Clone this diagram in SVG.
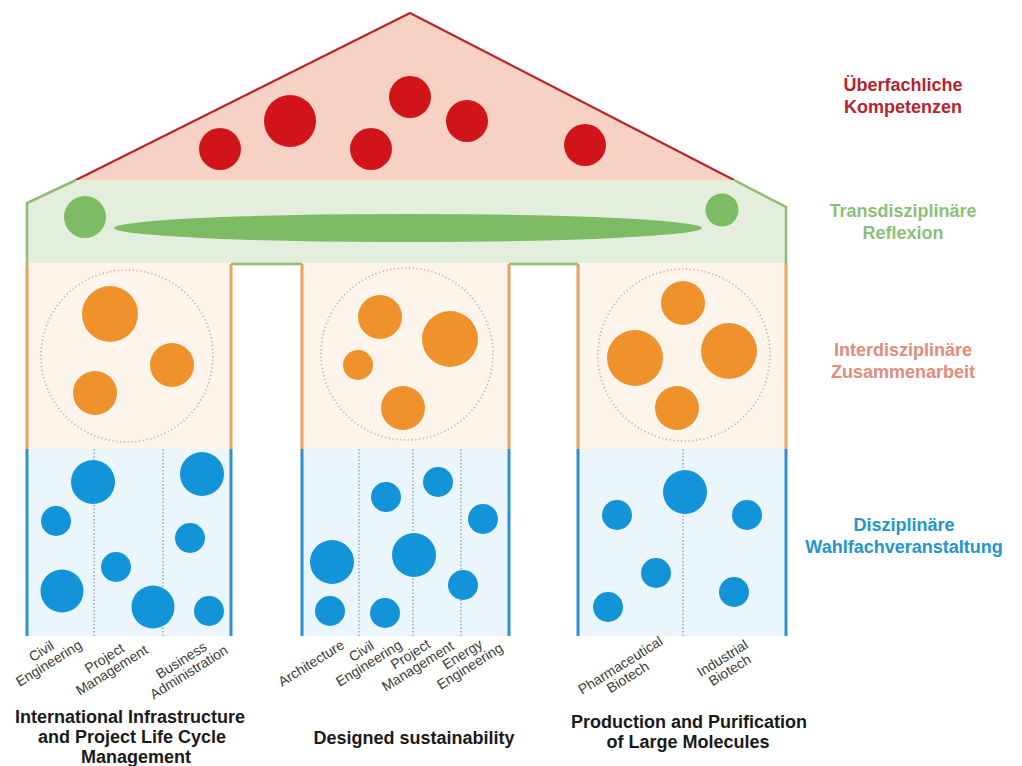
<svg xmlns="http://www.w3.org/2000/svg" width="1022" height="766" viewBox="0 0 1022 766">
<style>
text{font-family:"Liberation Sans",Arial,sans-serif}
.lbl{font-size:18px;font-weight:bold;text-anchor:middle}
.sub{font-size:14px;text-anchor:middle;fill:#3c3c3c}
.title{font-size:18px;font-weight:bold;text-anchor:middle;fill:#1a1a1a}
.red{fill:#d0141a}
.grn{fill:#7dbb64}
.org{fill:#f0922b}
.blu{fill:#1394d8}
.ring{fill:none;stroke:#d9ad85;stroke-width:1.7;stroke-dasharray:1.2 2.6}
.dl{stroke:#6f9cc2;stroke-width:1.2;stroke-dasharray:1.5 2}
.ol{stroke:#e9a35c;stroke-width:3;fill:none}
.bl{stroke:#2f90cf;stroke-width:3;fill:none}
.gl{stroke:#8dbd70;stroke-width:2.5;fill:none}
.ofill{fill:#fdf4ec}
.bfill{fill:#ebf5fc}
</style>
<rect x="0" y="0" width="1022" height="766" fill="#ffffff"/>

<g id="roof">
<polygon points="76,180 410,13 734,180" fill="#f6d1c4"/>
<polyline points="76,180 410,13 734,180" fill="none" stroke="#b8262e" stroke-width="2.2"/>
<circle class="red" cx="220" cy="149" r="21"/>
<circle class="red" cx="290" cy="121" r="26"/>
<circle class="red" cx="371" cy="149" r="21"/>
<circle class="red" cx="410" cy="97" r="21"/>
<circle class="red" cx="467" cy="121" r="21"/>
<circle class="red" cx="585" cy="145" r="21"/>
</g>

<g id="band">
<polygon points="76,180 734,180 786,207 786,263 27,263 27,203" fill="#e4eedc"/>
<polyline class="gl" points="76,180 27,203 27,263"/>
<polyline class="gl" points="734,180 786,207 786,263"/>
<line class="gl" x1="231" y1="264" x2="302" y2="264"/>
<line class="gl" x1="509" y1="264" x2="578" y2="264"/>
<circle class="grn" cx="85" cy="217" r="21"/>
<circle class="grn" cx="722" cy="210" r="16.5"/>
<ellipse class="grn" cx="408" cy="228" rx="294" ry="14"/>
</g>

<g id="pillar-1">
<rect class="ofill" x="27" y="263" width="204" height="186"/>
<rect class="bfill" x="27" y="449" width="204" height="187"/>
<circle class="ring" cx="127" cy="356" r="86"/>
<circle class="org" cx="110" cy="314" r="28"/>
<circle class="org" cx="172" cy="365" r="22"/>
<circle class="org" cx="95" cy="393" r="22"/>
<line class="dl" x1="94" y1="449" x2="94" y2="636"/>
<line class="dl" x1="163" y1="449" x2="163" y2="636"/>
<circle class="blu" cx="93" cy="482" r="22"/>
<circle class="blu" cx="56" cy="521" r="15"/>
<circle class="blu" cx="62" cy="591" r="21.5"/>
<circle class="blu" cx="116" cy="567" r="15"/>
<circle class="blu" cx="153" cy="607" r="21.5"/>
<circle class="blu" cx="202" cy="474" r="22"/>
<circle class="blu" cx="190" cy="538" r="15"/>
<circle class="blu" cx="209" cy="611" r="15"/>
<polyline class="ol" points="27,263 27,449"/>
<polyline class="ol" points="231,264 231,449"/>
<polyline class="bl" points="27,449 27,636"/>
<polyline class="bl" points="231,449 231,636"/>
</g>

<g id="pillar-2">
<rect class="ofill" x="302" y="263" width="207" height="186"/>
<rect class="bfill" x="302" y="449" width="207" height="187"/>
<circle class="ring" cx="407" cy="354" r="86"/>
<circle class="org" cx="380" cy="317" r="22"/>
<circle class="org" cx="450" cy="339" r="28"/>
<circle class="org" cx="358" cy="365" r="15"/>
<circle class="org" cx="403" cy="408" r="22"/>
<line class="dl" x1="359" y1="449" x2="359" y2="636"/>
<line class="dl" x1="413" y1="449" x2="413" y2="636"/>
<line class="dl" x1="461" y1="449" x2="461" y2="636"/>
<circle class="blu" cx="438" cy="482" r="15"/>
<circle class="blu" cx="386" cy="497" r="15"/>
<circle class="blu" cx="483" cy="519" r="15"/>
<circle class="blu" cx="332" cy="562" r="22"/>
<circle class="blu" cx="414" cy="555" r="22"/>
<circle class="blu" cx="463" cy="585" r="15"/>
<circle class="blu" cx="330" cy="611" r="15"/>
<circle class="blu" cx="385" cy="613" r="15"/>
<polyline class="ol" points="302,264 302,449"/>
<polyline class="ol" points="509,264 509,449"/>
<polyline class="bl" points="302,449 302,636"/>
<polyline class="bl" points="509,449 509,636"/>
</g>

<g id="pillar-3">
<rect class="ofill" x="578" y="263" width="208" height="186"/>
<rect class="bfill" x="578" y="449" width="208" height="187"/>
<circle class="ring" cx="684" cy="355" r="86"/>
<circle class="org" cx="683" cy="303" r="22"/>
<circle class="org" cx="635" cy="358" r="28"/>
<circle class="org" cx="729" cy="351" r="28"/>
<circle class="org" cx="677" cy="408" r="22"/>
<line class="dl" x1="683" y1="449" x2="683" y2="636"/>
<circle class="blu" cx="685" cy="492" r="22"/>
<circle class="blu" cx="617" cy="515" r="15"/>
<circle class="blu" cx="747" cy="515" r="15"/>
<circle class="blu" cx="656" cy="573" r="15"/>
<circle class="blu" cx="608" cy="607" r="15"/>
<circle class="blu" cx="734" cy="592" r="15"/>
<polyline class="ol" points="578,264 578,449"/>
<polyline class="ol" points="786,263 786,449"/>
<polyline class="bl" points="578,449 578,636"/>
<polyline class="bl" points="786,449 786,636"/>
</g>

<g id="layer-labels">
<text class="lbl" fill="#b7232f" x="903" y="91">Überfachliche<tspan x="903" dy="22">Kompetenzen</tspan></text>
<text class="lbl" fill="#8dbf78" x="903" y="217">Transdisziplinäre<tspan x="903" dy="22">Reflexion</tspan></text>
<text class="lbl" fill="#e48b7c" x="903" y="356">Interdisziplinäre<tspan x="903" dy="21.5">Zusammenarbeit</tspan></text>
<text class="lbl" fill="#2296cf" x="904" y="531">Disziplinäre<tspan x="904" dy="21.5">Wahlfachveranstaltung</tspan></text>
</g>

<g id="discipline-labels">
<text class="sub" transform="translate(45,657) rotate(-32)" y="-2">Civil<tspan x="0" dy="14">Engineering</tspan></text>
<text class="sub" transform="translate(108,664) rotate(-32)" y="-2">Project<tspan x="0" dy="14">Management</tspan></text>
<text class="sub" transform="translate(185,666) rotate(-32)" y="-2">Business<tspan x="0" dy="14">Administration</tspan></text>
<text class="sub" transform="translate(311,663) rotate(-32)" y="5">Architecture</text>
<text class="sub" transform="translate(365,657) rotate(-32)" y="-2">Civil<tspan x="0" dy="14">Engineering</tspan></text>
<text class="sub" transform="translate(414,660) rotate(-32)" y="-2">Project<tspan x="0" dy="14">Management</tspan></text>
<text class="sub" transform="translate(466,660) rotate(-32)" y="-2">Energy<tspan x="0" dy="14">Engineering</tspan></text>
<text class="sub" transform="translate(624,671) rotate(-32)" y="-2">Pharmaceutical<tspan x="0" dy="14">Biotech</tspan></text>
<text class="sub" transform="translate(726,664) rotate(-32)" y="-2">Industrial<tspan x="0" dy="14">Biotech</tspan></text>
</g>

<g id="program-titles">
<text class="title" x="130" y="723">International Infrastructure<tspan x="132" dy="20">and Project Life Cycle</tspan><tspan x="136" dy="20">Management</tspan></text>
<text class="title" x="414" y="744">Designed sustainability</text>
<text class="title" x="689" y="728">Production and Purification<tspan x="688" dy="20">of Large Molecules</tspan></text>
</g>
</svg>
